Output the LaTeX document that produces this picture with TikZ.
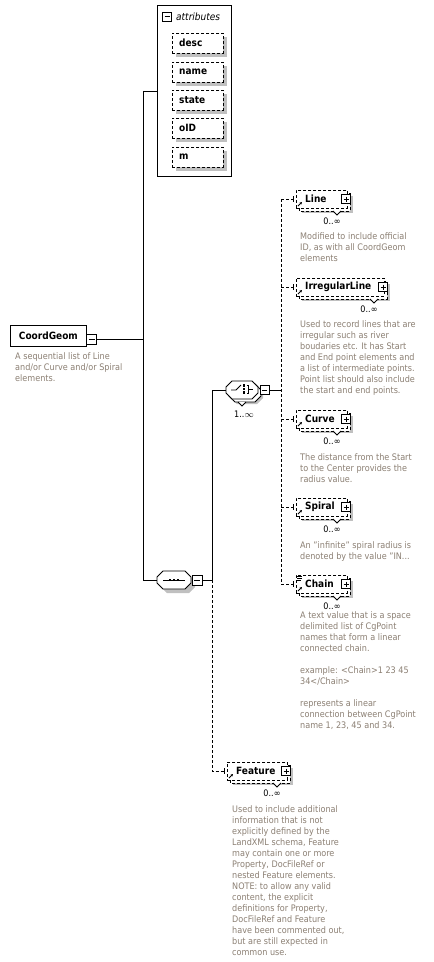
\documentclass[tikz,border=0pt]{standalone}
\usepackage{fontspec}
\setmainfont{DejaVu Sans Condensed}
\usetikzlibrary{arrows.meta,calc}
\definecolor{desccol}{RGB}{140,128,116}
\definecolor{shad}{RGB}{192,192,192}
\tikzset{
  ln/.style={line width=0.8pt},
  dsh/.style={line width=0.8pt,dash pattern=on 3pt off 2pt},
  elbox/.style={draw,dsh,fill=white,minimum height=18pt,inner sep=0pt},
  attrbx/.style={draw,dsh,fill=white,minimum width=51pt,minimum height=20pt,inner sep=0pt,anchor=north west},
  elabel/.style={anchor=west,inner sep=0pt,font=\fontsize{10}{12}\selectfont\bfseries},
  mult/.style={inner sep=0pt,font=\fontsize{9}{11}\selectfont},
  desc/.style={anchor=north west,align=left,inner sep=0pt,text=desccol,font=\fontsize{9}{11}\selectfont},
  plusbox/.style={ln,draw,fill=white,minimum size=9pt,inner sep=0pt,
    path picture={\draw[line width=0.7pt] ([xshift=2pt]path picture bounding box.west) -- ([xshift=-2pt]path picture bounding box.east);
                  \draw[line width=0.7pt] ([yshift=-2pt]path picture bounding box.north) -- ([yshift=2pt]path picture bounding box.south);}},
  minusbox/.style={ln,draw,fill=white,minimum size=9pt,inner sep=0pt,
    path picture={\draw[line width=0.7pt] ([xshift=2pt]path picture bounding box.west) -- ([xshift=-2pt]path picture bounding box.east);}},
}
\newcommand\xsdelem[6]{%
  \fill[shad] ({#2+6},{#3+6}) rectangle ({#2+#4+6},{#3+23});
  \draw[dsh,fill=white] ({#2+3},{#3+3}) rectangle ({#2+#4+3},{#3+21});
  \draw[ln,fill=white] ({#2+#4-14},{#3+21}) -- ({#2+#4-10},{#3+25}) -- ({#2+#4-6},{#3+21});
  \node[elbox,minimum width=#4pt,anchor=north west] (#1) at (#2,#3) {};
  \node[elabel] (#1-l) at ({#2+9},{#3+9}) {#5};
  \node[plusbox] (#1-p) at ({#2+#4-1},{#3+9}) {};
  \draw[ln,-{Stealth[length=2.5pt,width=2.5pt]}] ({#2+2},{#3+16}) -- ({#2+6},{#3+12});
  \draw[ln] ({#2-3},{#3+6}) -- ({#2-3},{#3+12});
  \node[mult] (#1-m) at ({#2+#4-15},{#3+31}) {#6};
}
\newcommand\xsdattr[3]{%
  \fill[shad] (176,{#2+4}) rectangle (227,{#2+24});
  \node[attrbx] (#1) at (172,#2) {};
  \node[elabel] (#1-l) at (179,{#2+10}) {#3};
}
\newcommand\xsdocta[5]{% L T R B fill
  \path[#5] ({#1+6},#2) -- ({#3-6},#2) -- (#3,{#2+6}) -- (#3,{#4-6}) -- ({#3-6},#4) -- ({#1+6},#4) -- (#1,{#4-6}) -- (#1,{#2+6}) -- cycle;
}
\begin{document}
\begin{tikzpicture}[x=1pt,y=-1pt]
\useasboundingbox[fill=white] (0,0) rectangle (434,962);

% ---------------- attributes ----------------
\node[ln,draw,fill=white,minimum width=74pt,minimum height=171pt,inner sep=0pt,anchor=north west] (attrs) at (157,5) {};
\node[minusbox] (attrs-m) at (167,16.5) {};
\node[anchor=west,inner sep=0pt,font=\fontsize{10}{12}\selectfont\itshape] (attrs-t) at (176,16.5) {attributes};
\xsdattr{desc}{33}{desc}
\xsdattr{name}{62}{name}
\xsdattr{state}{90}{state}
\xsdattr{oID}{118}{oID}
\xsdattr{m}{147}{m}

% ---------------- CoordGeom ----------------
\node[ln,draw,fill=white,minimum width=76pt,minimum height=21pt,inner sep=0pt,anchor=north west,
      font=\fontsize{10}{12}\selectfont\bfseries] (cg) at (10,325) {CoordGeom};
\node[minusbox,minimum size=10pt] (cg-m) at (91.5,339) {};
\node[desc] (cg-d) at (15,352.5) {A sequential list of Line\\and/or Curve and/or Spiral\\elements.};

% buses
\coordinate (bxA) at (143,0);
\coordinate (bxB) at (212,0);
\coordinate (bxC) at (281,0);

% ---------------- sequence ----------------
\xsdocta{161}{575}{195}{593}{fill=shad}
\xsdocta{157}{571}{191}{589}{ln,draw,fill=white}
\node[inner sep=0pt,minimum width=34pt,minimum height=18pt] (seq) at (174,580) {};
\draw[ln] (163,580) -- (185,580);
\foreach \xx in {170,174,178} \fill (\xx-1.3,578.7) rectangle (\xx+1.3,581.3);
\node[minusbox,minimum size=10pt] (seq-m) at (197,580) {};

% ---------------- choice ----------------
\xsdocta{231}{386}{263}{404}{fill=shad}
\xsdocta{229}{384}{261}{402}{ln,draw,fill=white}
\draw[ln,fill=white] (238,402) -- (242,406) -- (246,402);
\xsdocta{226}{381}{258}{399}{ln,draw,fill=white}
\node[inner sep=0pt,minimum width=32pt,minimum height=18pt] (cho) at (242,390) {};
\draw[ln] (231,390) -- (236,390) -- (241,385);
\foreach \yy in {385.5,389,392.5} \fill (243,\yy-1.2) rectangle (245.4,\yy+1.2);
\draw[ln] (246.5,385.5) -- (248.5,385.5) -- (248.5,393) -- (246.5,393);
\draw[ln] (248.5,389.5) -- (253,389.5);
\node[minusbox] (cho-m) at (264.5,390) {};
\node[mult] (cho-mult) at (244,414) {1..\ensuremath{\infty}};

% ---------------- elements ----------------
\xsdelem{Line}{296}{190}{51}{Line}{0..∞}
\node[desc] at (300,232.5) {Modified to include official\\ID, as with all CoordGeom\\elements};

\xsdelem{IrregularLine}{296}{278}{88}{IrregularLine}{0..∞}
\node[desc] at (300,320.5) {Used to record lines that are\\irregular such as river\\boudaries etc. It has Start\\and End point elements and\\a list of intermediate points.\\Point list should also include\\the start and end points.};

\xsdelem{Curve}{296}{410}{51}{Curve}{0..∞}
\node[desc] at (300,453.5) {The distance from the Start\\to the Center provides the\\radius value.};

\xsdelem{Spiral}{296}{498}{51}{Spiral}{0..∞}
\node[desc] at (300,541.5) {An "infinite" spiral radius is\\denoted by the value "IN...};

\xsdelem{Chain}{296}{575}{51}{Chain}{0..∞}
\draw[line width=0.7pt] (297,576) -- (302,576) (297,578) -- (302,578) (297,580) -- (301,580);
\node[desc] at (300,611.5) {A text value that is a space\\delimited list of CgPoint\\names that form a linear\\connected chain.\\[11pt]example: <Chain>1 23 45\\34</Chain>\\[11pt]represents a linear\\connection between CgPoint\\name 1, 23, 45 and 34.};

\xsdelem{Feature}{227}{762}{60}{Feature}{0..∞}
\node[desc] at (232,805.5) {Used to include additional\\information that is not\\explicitly defined by the\\LandXML schema, Feature\\may contain one or more\\Property, DocFileRef or\\nested Feature elements.\\NOTE: to allow any valid\\content, the explicit\\definitions for Property,\\DocFileRef and Feature\\have been commented out,\\but are still expected in\\common use.};

% ---------------- connectors ----------------
\draw[ln] (cg-m.east) -- (cg-m.east -| bxA);
\draw[ln] (attrs.west -| bxA) -- (seq.west -| bxA);
\draw[ln] (attrs.west -| bxA) -- (attrs.west);
\draw[ln] (seq.west -| bxA) -- (seq.west);
\draw[ln] (seq-m.east) -- (seq-m.east -| bxB);
\draw[ln] (cho.west -| bxB) -- (seq.east -| bxB);
\draw[ln] (cho.west -| bxB) -- (cho.west);
\draw[dsh] (seq.east -| bxB) -- (Feature.west -| bxB) -- ([xshift=-3pt]Feature.west);
\draw[ln] (cho-m.east) -- (cho-m.east -| bxC);
\draw[dsh] (Line.west -| bxC) -- (Chain.west -| bxC);
\foreach \e in {Line,IrregularLine,Curve,Spiral,Chain}
  \draw[dsh] (\e.west -| bxC) -- ([xshift=-3pt]\e.west);
\end{tikzpicture}
\end{document}
